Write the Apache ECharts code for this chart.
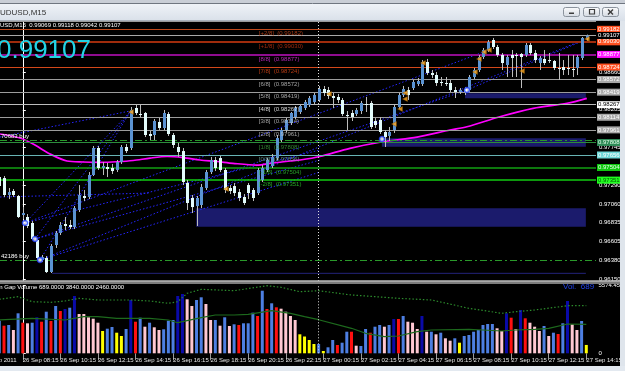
<!DOCTYPE html>
<html>
<head>
<meta charset="utf-8">
<script src="https://cdn.jsdelivr.net/npm/echarts@6.0.0/dist/echarts.min.js"></script>
<style>
html,body{margin:0;padding:0;background:#000;overflow:hidden;}
#chart{width:625px;height:371px;}
</style>
</head>
<body>
<div id="chart"></div>
<script>
// ================= DATA =================
const firstBar = -5;
const opens = [0.97388,0.97376,0.97170,0.97219,0.97158,0.96927,0.96903,0.96830,0.96624,0.96381,
0.96405,0.96235,0.96563,0.96709,0.96818,0.96806,0.96781,0.96988,0.97158,0.97146,
0.97413,0.97741,0.97498,0.97510,0.97498,0.97474,0.97571,0.97753,0.97741,0.98227,
0.98154,0.98166,0.97911,0.97899,0.98057,0.97984,0.98154,0.97899,0.97753,0.97704,
0.97316,0.97134,0.97036,0.97049,0.97255,0.97449,0.97595,0.97619,0.97474,0.97255,
0.97279,0.97206,0.97146,0.97291,0.97231,0.97194,0.97352,0.97474,0.97522,0.97619,
0.97838,0.97959,0.98044,0.98117,0.98178,0.98227,0.98263,0.98299,0.98324,0.98457,
0.98445,0.98372,0.98360,0.98324,0.98142,0.98166,0.98154,0.98190,0.98275,0.98287,
0.98069,0.98081,0.97935,0.97887,0.97959,0.98239,0.98384,0.98445,0.98469,0.98518,
0.98518,0.98785,0.98652,0.98627,0.98542,0.98530,0.98530,0.98445,0.98421,0.98457,
0.98445,0.98603,0.98688,0.98846,0.98931,0.99052,0.98967,0.98870,0.98749,0.98870,
0.98870,0.98882,0.98870,0.98992,0.98894,0.98773,0.98822,0.98809,0.98797,0.98712,
0.98724,0.98712,0.98700,0.98712,0.98834,0.99069];
const closes = [0.97279,0.97170,0.97206,0.97170,0.96903,0.96951,0.96794,0.96636,0.96405,0.96417,
0.96235,0.96551,0.96709,0.96806,0.96794,0.96781,0.97012,0.97170,0.97134,0.97413,
0.97741,0.97498,0.97522,0.97486,0.97461,0.97571,0.97753,0.97704,0.98202,0.98166,
0.98142,0.97899,0.97887,0.98069,0.97984,0.98166,0.97911,0.97777,0.97692,0.97328,
0.97073,0.97024,0.97134,0.97267,0.97449,0.97595,0.97498,0.97474,0.97231,0.97219,
0.97194,0.97134,0.97073,0.97194,0.97134,0.97474,0.97498,0.97595,0.97632,0.97862,
0.97959,0.98081,0.98166,0.98227,0.98251,0.98299,0.98348,0.98384,0.98457,0.98409,
0.98372,0.98348,0.98324,0.98154,0.98129,0.98117,0.98202,0.98287,0.98263,0.97996,
0.98020,0.97935,0.97874,0.97935,0.98239,0.98384,0.98457,0.98384,0.98542,0.98554,
0.98785,0.98652,0.98627,0.98530,0.98530,0.98524,0.98445,0.98421,0.98445,0.98421,
0.98603,0.98688,0.98846,0.98931,0.99028,0.98967,0.98870,0.98773,0.98846,0.98834,
0.98858,0.98846,0.98992,0.98894,0.98809,0.98834,0.98773,0.98797,0.98712,0.98706,
0.98688,0.98700,0.98694,0.98846,0.99077,0.99107];
const highs = [0.97413,0.97401,0.97255,0.97243,0.97170,0.97024,0.96939,0.96854,0.96648,0.96442,
0.96429,0.96575,0.96733,0.96842,0.96903,0.96867,0.97036,0.97291,0.97231,0.97449,
0.97765,0.97765,0.97571,0.97559,0.97547,0.97595,0.97777,0.97789,0.98239,0.98275,
0.98263,0.98178,0.97947,0.98093,0.98105,0.98202,0.98178,0.97923,0.97802,0.97741,
0.97352,0.97170,0.97158,0.97304,0.97474,0.97632,0.97632,0.97644,0.97498,0.97291,
0.97316,0.97243,0.97182,0.97316,0.97255,0.97498,0.97534,0.97619,0.97668,0.97899,
0.97984,0.98105,0.98178,0.98251,0.98275,0.98324,0.98372,0.98409,0.98494,0.98494,
0.98482,0.98409,0.98397,0.98348,0.98190,0.98202,0.98227,0.98312,0.98360,0.98312,
0.98105,0.98117,0.97959,0.97996,0.98263,0.98409,0.98494,0.98482,0.98567,0.98591,
0.98809,0.98822,0.98688,0.98664,0.98603,0.98603,0.98567,0.98482,0.98469,0.98482,
0.98627,0.98712,0.98870,0.98955,0.99052,0.99077,0.98992,0.98894,0.98870,0.98931,
0.98894,0.98894,0.99016,0.99016,0.98931,0.98858,0.98931,0.98894,0.98809,0.98894,
0.98809,0.98870,0.98870,0.98870,0.99089,0.99118];
const lows = [0.97231,0.97146,0.97121,0.97146,0.96891,0.96879,0.96769,0.96624,0.96381,0.96356,
0.96223,0.96223,0.96527,0.96684,0.96745,0.96757,0.96757,0.96964,0.97097,0.97121,
0.97401,0.97474,0.97413,0.97388,0.97425,0.97449,0.97547,0.97680,0.97717,0.98142,
0.98117,0.97874,0.97838,0.97838,0.97959,0.97959,0.97887,0.97741,0.97632,0.97291,
0.96988,0.96951,0.96794,0.97012,0.97231,0.97425,0.97461,0.97449,0.97194,0.97182,
0.97158,0.97097,0.97049,0.97121,0.97097,0.97170,0.97328,0.97449,0.97498,0.97595,
0.97814,0.97935,0.98020,0.98093,0.98154,0.98202,0.98239,0.98275,0.98299,0.98372,
0.98336,0.98227,0.98287,0.98129,0.97959,0.98069,0.98129,0.98154,0.98178,0.97972,
0.97984,0.97911,0.97753,0.97826,0.97923,0.98214,0.98360,0.98324,0.98445,0.98494,
0.98494,0.98627,0.98591,0.98494,0.98494,0.98494,0.98421,0.98348,0.98397,0.98384,
0.98421,0.98579,0.98664,0.98822,0.98907,0.98943,0.98846,0.98688,0.98603,0.98603,
0.98603,0.98469,0.98846,0.98870,0.98773,0.98688,0.98749,0.98773,0.98688,0.98567,
0.98627,0.98627,0.98603,0.98627,0.98809,0.99042];

const volumes = [2688,2276,2334,1921,3298,2523,2474,2523,2969,2606,
3430,2663,3900,3488,3653,3760,4725,3241,3241,2969,
2853,2523,1839,2029,2169,1699,1427,2004,4395,2606,
2936,2193,2523,2144,1921,1979,2688,2746,4725,4890,
4453,3900,4395,4618,4065,2746,2746,2276,2969,2251,
2391,2334,2474,2474,3348,3076,5162,3653,4123,3793,
3678,3430,3076,2746,1567,1385,1097,767,767,190,
495,1097,684,874,1781,1781,627,602,2004,1699,
2193,2334,2193,2334,2828,2828,3076,2606,2523,2004,
3076,1781,1781,1567,1699,1237,1039,1237,874,1427,
1509,1781,1921,2334,2416,2416,2062,1839,3298,2936,
2004,3570,2886,2523,2193,1839,2251,1427,1699,1591,
2474,4313,2391,1921,2663,689];
// B=blue, R=red, P=pink, Y=yellow, N=navy
const volumeClass = "BRBPBRPBNR"+"BRBRNBNPPP"+"PPYBBYYBNR"+"BPBPPBBBNN"+"PPBBPPBPBP"+
  "BRBBBRBRBR"+"PPPPYYYYBY"+"BBRBBRPBBR"+"BBPBNRBPPP"+"NPBPBPPBYB"+"BBBBBBPPNR"+"PNRPPPBPBR"+"BNPPBY";

const volHighBars = [-5,-1,2,6,9,12,16,23,27,31,33,35,38,45,52,55,59,63,70,80,87,95,102,105,109,116,120];
const volHighValues = [4453,4667,4255,4205,4313,4535,4395,4395,4313,4123,4255,4948,5277,5162,5574,5442,5079,5162,4807,4535,4395,3711,3298,3430,3570,3925,3925];
const volAvgBars = [-5,2,9,13,16,20,27,31,33,38,41,45,48,53,57,60,63,70,73,77,80,84,87,95,98,102,105,109,112,116,120];
const volAvgValues = [2746,2886,2746,3018,3018,2886,2886,2746,2523,2936,3158,3158,3216,3513,3298,3018,2770,2062,1649,1369,1427,1781,1921,1979,1921,1839,1921,1979,2062,2416,2391];

const maBars = [-4.85,-0.6,2.2,5.8,9.4,12.8,16.4,20,23.5,27.1,30.7,34.1,37.7,41.3,44.7,49.8,53.2,56.9,59,63.2,69.6,76.6,83.9,90.9,94.5,101.5,108.6,115.8,120];
const maValues = [0.97911,0.97862,0.97789,0.97668,0.97583,0.97571,0.97567,0.97574,0.97589,0.97619,0.97638,0.97625,0.97595,0.97577,0.97555,0.97534,0.97559,0.97583,0.97595,0.97638,0.97737,0.97817,0.97874,0.97959,0.97999,0.98121,0.98223,0.98284,0.98344];

const murreyNames = ['[+2/8]','[+1/8]','[8/8]','[7/8]','[6/8]','[5/8]','[4/8]','[3/8]','[2/8]','[1/8]','[0/8]','[-1/8]','[-2/8]'];
const murreyValues = [0.99182,0.99030,0.98877,0.98724,0.98572,0.98419,0.98267,0.98114,0.97961,0.97808,0.97656,0.97504,0.97351];
const plainPriceTicks = [0.98660,0.98205,0.97745,0.97290,0.97060,0.96835,0.96605,0.96380,0.96150];
const volTicks = [0, 5574.45];
const bidPrice = 0.99107;
const buyPrices = [0.97830, 0.96381];
const buyLabels = ['70683 buy', '42186 buy'];

const tickBars = [0,8,16,24,32,40,48,56,64,72,80,88,96,104,112,120];
const tickLabels = ['26 Sep 08:15','26 Sep 10:15','26 Sep 12:15','26 Sep 14:15','26 Sep 16:15','26 Sep 18:15','26 Sep 20:15','26 Sep 22:15',
  '27 Sep 00:15','27 Sep 02:15','27 Sep 04:15','27 Sep 06:15','27 Sep 08:15','27 Sep 10:15','27 Sep 12:15','27 Sep 14:15'];

const zoneStart = [36.9, 94.1, 76.4];
const zoneEnd = [119.8, 119.8, 119.8];
const zoneTop = [0.97009, 0.98405, 0.97859];
const zoneBottom = [0.96785, 0.98344, 0.97757];
const supportStart = 6.2, supportEnd = 119.8, supportPrice = 0.96219;

const trendStartBar = [-4.85,0.47,2.6,3.66,0.47,2.6,3.66,-4.85,0.47,2.6,3.66,94.51];
const trendStartPrice = [0.97874,0.96830,0.96636,0.96381,0.96830,0.96636,0.96381,0.97146,0.96830,0.96636,0.96381,0.98445];
const trendEndBar = [22.81,22.81,22.81,22.81,99.19,94.51,119.2,27.06,63.23,63.23,63.23,120.04];
const trendEndPrice = [0.98190,0.98178,0.98178,0.98178,0.98931,0.98445,0.99052,0.97194,0.97717,0.97595,0.97449,0.99064];

const arrowBars = [23.02,43.23,65.15,78.98,80.26,81.32,81.32,85.15,96.21,97.06,98.13,99.19,106.21,120.04];
const arrowPrices = [0.98178,0.97243,0.98397,0.98032,0.98214,0.98409,0.98336,0.98773,0.98664,0.98822,0.98907,0.98931,0.98676,0.99064];
const circleBars = [0.47,2.6,3.66,76.43,94.51];
const circlePrices = [0.96830,0.96636,0.96381,0.97850,0.98445];
const daySeparatorBar = 62.87;

// ================= STYLE =================
const FONT = '"Liberation Sans", Arial, sans-serif';
const XMIN = -4.851, XMAX = 121.96;
const PMIN = 0.96126, PMAX = 0.99283;
const VOL_MAX = 5574.45;
const murreyLineColor = ['#c04a1c','#a02c0c','#900c90','#d4481a','#9c9c9c','#9c9c9c','#bcbcbc','#9c9c9c','#9c9c9c','#2c8c3c','#68b4b4','#12a012','#12cc12'];
const murreyLineWidth = [1,2,2,1,1,1,1,1,1,1,1,1.5,1.5];
const murreyBoxBg = ['#ff5020','#ff5020','#ff10ff','#ff5020','#a8a8a8','#a8a8a8','#ffffff','#a8a8a8','#a8a8a8','#2e8b57','#70d8d8','#10c810','#20ff20'];
const murreyBoxText = ['#ffffff','#ffffff','#ffffff','#ffffff','#ffffff','#ffffff','#000000','#ffffff','#ffffff','#e0ffe8','#ffffff','#eaffea','#005500'];
const murreyTextColor = ['#d0481a','#c83410','#e030e0','#e04818','#c8c8c8','#c8c8c8','#ffffff','#c8c8c8','#c8c8c8','#3ca03c','#7ab0a8','#30c030','#30d030'];
const volColors = {B:'#4d7fe2', R:'#ff1010', P:'#ffc8d2', Y:'#ffff00', N:'#0a0aa8'};
const BULL = '#5b93d2', BEAR = '#e2fcfc', WICK = '#bcbcbc';

// ================= BUILD =================
const candleData = opens.map((o, k) => [firstBar + k, o, closes[k], lows[k], highs[k]]);
const volData = volumes.map((v, k) => ({value: [firstBar + k, v], itemStyle: {color: volColors[volumeClass[k]]}}));

function hLine(v, lineStyle, label) {
  return [{coord: [XMIN, v], lineStyle: lineStyle, label: label}, {coord: [XMAX, v]}];
}
const boxLabel = (text, bg, color) => ({show: true, position: 'end', distance: 1, formatter: text,
  backgroundColor: bg, color: color, fontSize: 6, fontFamily: FONT, padding: [1, 1, 0, 1], lineHeight: 6});

const levelLines = murreyValues.map((v, k) => hLine(v,
  {color: murreyLineColor[k], width: murreyLineWidth[k], type: 'solid'},
  boxLabel(v.toFixed(5), murreyBoxBg[k], murreyBoxText[k])));
levelLines.push(hLine(bidPrice, {color: '#a8a8a8', width: 1, type: 'solid'}, boxLabel(bidPrice.toFixed(5), '#000000', '#ffffff')));
buyPrices.forEach((p, k) => levelLines.push(hLine(p, {color: '#2a9a2a', width: 1, type: [7, 3, 2, 3]},
  {show: true, position: 'insideStartTop', distance: 1, formatter: buyLabels[k], color: '#ffffff', fontSize: 6, fontFamily: FONT})));
levelLines.push([{coord: [daySeparatorBar, PMIN], lineStyle: {color: '#e0e0e0', width: 1, type: [1, 2]}, label: {show: false}},
  {coord: [daySeparatorBar, PMAX]}]);

const series = [];

series.push({
  type: 'line', xAxisIndex: 0, yAxisIndex: 0, data: [], z: 1, silent: true,
  markArea: {silent: true, itemStyle: {color: '#1b1b6c'},
    data: zoneStart.map((s, k) => [{coord: [s, zoneTop[k]]}, {coord: [zoneEnd[k], zoneBottom[k]]}])}
});
series.push({
  type: 'line', xAxisIndex: 0, yAxisIndex: 0, z: 1, symbol: 'none', silent: true,
  data: [[supportStart, supportPrice], [supportEnd, supportPrice]],
  lineStyle: {color: '#23237a', width: 1}
});
series.push({
  type: 'line', xAxisIndex: 0, yAxisIndex: 0, data: [], z: 2, silent: true,
  markLine: {symbol: 'none', silent: true, animation: false, data: levelLines}
});

trendStartBar.forEach((s, k) => {
  series.push({
    type: 'line', xAxisIndex: 0, yAxisIndex: 0, z: 3, symbol: 'none', silent: true,
    data: [[s, trendStartPrice[k]], [trendEndBar[k], trendEndPrice[k]]],
    lineStyle: {color: '#2626ff', width: 1, type: [1.5, 2]}
  });
});

series.push({
  type: 'line', xAxisIndex: 0, yAxisIndex: 0, z: 4, symbol: 'none', silent: true, smooth: 0.3,
  data: maBars.map((b, k) => [b, maValues[k]]),
  lineStyle: {color: '#ff00ff', width: 1.7}
});

series.push({
  type: 'custom', xAxisIndex: 0, yAxisIndex: 0, z: 5, clip: true, silent: true,
  data: candleData,
  encode: {x: 0, y: [1, 2, 3, 4]},
  renderItem: function (params, api) {
    const x = api.value(0), o = api.value(1), c = api.value(2), l = api.value(3), h = api.value(4);
    const po = api.coord([x, o]), pc = api.coord([x, c]), pl = api.coord([x, l]), ph = api.coord([x, h]);
    const cx = Math.round(po[0]);
    const top = Math.min(po[1], pc[1]);
    const bh = Math.max(Math.abs(po[1] - pc[1]), 1);
    return {
      type: 'group',
      children: [
        {type: 'line', shape: {x1: cx + 0.5, y1: ph[1], x2: cx + 0.5, y2: pl[1]}, style: {stroke: WICK, lineWidth: 1}},
        {type: 'rect', shape: {x: cx - 1, y: top, width: 3, height: bh}, style: {fill: c >= o ? BULL : BEAR}}
      ]
    };
  }
});

series.push({
  type: 'scatter', xAxisIndex: 0, yAxisIndex: 0, z: 6, silent: true,
  symbol: 'triangle', symbolRotate: 90, symbolSize: [5, 5],
  itemStyle: {color: '#ffa81e', borderColor: '#8a5200', borderWidth: 0.5},
  data: arrowBars.map((b, k) => [b, arrowPrices[k]])
});
series.push({
  type: 'scatter', xAxisIndex: 0, yAxisIndex: 0, z: 6, silent: true,
  symbol: 'circle', symbolSize: 5,
  itemStyle: {color: '#ffffff', borderColor: '#1c3cff', borderWidth: 1.5},
  data: circleBars.map((b, k) => [b, circlePrices[k]])
});

series.push({
  type: 'scatter', xAxisIndex: 0, yAxisIndex: 0, z: 8, silent: true,
  symbolSize: 1, itemStyle: {color: 'rgba(0,0,0,0)'},
  data: murreyValues.map((v, k) => ({value: [50.1, v], label: {color: murreyTextColor[k]}})),
  label: {show: true, position: 'right', distance: 0, offset: [0, 4.5], fontSize: 6, fontFamily: FONT,
    formatter: p => murreyNames[p.dataIndex] + '  (' + murreyValues[p.dataIndex].toFixed(5) + ')'}
});

series.push({
  type: 'bar', xAxisIndex: 1, yAxisIndex: 1, z: 3, barWidth: 3, silent: true,
  data: volData,
  markLine: {symbol: 'none', silent: true, label: {show: false},
    data: [[{coord: [daySeparatorBar, 0], lineStyle: {color: '#e0e0e0', width: 1, type: [1, 2]}}, {coord: [daySeparatorBar, VOL_MAX]}]]}
});
series.push({
  type: 'line', xAxisIndex: 1, yAxisIndex: 1, z: 4, symbol: 'none', silent: true,
  data: volHighBars.map((b, k) => [b, volHighValues[k]]),
  lineStyle: {color: '#2c8c2c', width: 1.2, type: [1.5, 2]}
});
series.push({
  type: 'line', xAxisIndex: 1, yAxisIndex: 1, z: 4, symbol: 'none', silent: true,
  data: volAvgBars.map((b, k) => [b, volAvgValues[k]]),
  lineStyle: {color: '#1d6a1d', width: 1.2}
});

// ================= GRAPHIC (window chrome & texts) =================
const grad = new echarts.graphic.LinearGradient(0, 0, 0, 1, [{offset: 0, color: '#f4f7fb'}, {offset: 1, color: '#d9e0e9'}]);
const btnGrad = () => new echarts.graphic.LinearGradient(0, 0, 0, 1, [{offset: 0, color: '#fdfdfe'}, {offset: 1, color: '#d3d9e1'}]);
function txt(text, x, y, size, color) {
  return {type: 'text', z: 120, silent: true,
    style: {text: text, x: x, y: y, font: size + 'px ' + FONT, fill: color,
      verticalAlign: 'middle', textVerticalAlign: 'middle', align: 'left', textAlign: 'left'}};
}
const G = [
  {type: 'rect', z: 100, silent: true, shape: {x: 0, y: 0, width: 625, height: 21}, style: {fill: grad}},
  {type: 'rect', z: 101, silent: true, shape: {x: 0, y: 0, width: 625, height: 3}, style: {fill: '#c9ced6'}},
  {type: 'line', z: 101, silent: true, shape: {x1: 0, y1: 3.5, x2: 625, y2: 3.5}, style: {stroke: '#6f7680', lineWidth: 1}},
  {type: 'line', z: 101, silent: true, shape: {x1: 0, y1: 20.5, x2: 620, y2: 20.5}, style: {stroke: '#a9b1bb', lineWidth: 1}},
  {type: 'rect', z: 100, silent: true, shape: {x: 620, y: 21, width: 5, height: 350}, style: {fill: '#dfe5ec'}},
  {type: 'rect', z: 100, silent: true, shape: {x: 0, y: 366, width: 625, height: 5}, style: {fill: '#e3e9f0'}},
  {type: 'rect', z: 60, silent: true, shape: {x: 0, y: 280.5, width: 620, height: 3.5}, style: {fill: '#7c7c7c'}},
  {type: 'line', z: 61, silent: true, shape: {x1: 0, y1: 281, x2: 620, y2: 281}, style: {stroke: '#d4d4d4', lineWidth: 1}},
  {type: 'line', z: 61, silent: true, shape: {x1: 0, y1: 21.5, x2: 596, y2: 21.5}, style: {stroke: '#9a9a9a', lineWidth: 1}},
  txt('UDUSD,M15', 0, 12.5, 8, '#333333'),
  txt('USD,M15  0.99069 0.99118 0.99042 0.99107', 0, 25.7, 6, '#ffffff'),
  txt('0.99107', -3, 50.5, 26, '#22d4e6'),
  txt('in Gap Volume 689.0000 3840.0000 2460.0000', -2, 287.5, 6, '#ffffff'),
  txt('Vol.  689', 563, 287, 8, '#2040e8'),
  txt('26 Sep 2011', -17, 360.5, 6, '#e8e8e8')
];
[563, 583, 602].forEach((bx, k) => {
  G.push({type: 'rect', z: 110, silent: true, shape: {x: bx + 0.5, y: 7.5, width: 16, height: 9, r: 2},
    style: {fill: btnGrad(), stroke: '#8a929c', lineWidth: 1}});
  if (k === 0) G.push({type: 'rect', z: 111, silent: true, shape: {x: bx + 6, y: 12.5, width: 5, height: 1.5}, style: {fill: '#3c3c3c'}});
  if (k === 1) G.push({type: 'rect', z: 111, silent: true, shape: {x: bx + 6.5, y: 9.5, width: 5, height: 4.5}, style: {fill: 'none', stroke: '#3c3c3c', lineWidth: 1.2}});
  if (k === 2) {
    G.push({type: 'line', z: 111, silent: true, shape: {x1: bx + 6, y1: 9.5, x2: bx + 11, y2: 14.5}, style: {stroke: '#3c3c3c', lineWidth: 1.4}});
    G.push({type: 'line', z: 111, silent: true, shape: {x1: bx + 11, y1: 9.5, x2: bx + 6, y2: 14.5}, style: {stroke: '#3c3c3c', lineWidth: 1.4}});
  }
});

const option = {
  backgroundColor: '#000000',
  animation: false,
  textStyle: {fontFamily: FONT},
  grid: [
    {left: 0, top: 21, width: 596, height: 260},
    {left: 0, top: 285.7, width: 596, height: 67.6}
  ],
  xAxis: [
    {type: 'value', gridIndex: 0, min: XMIN, max: XMAX, show: false},
    {type: 'value', gridIndex: 1, min: XMIN, max: XMAX, offset: 3,
      axisLine: {show: false}, splitLine: {show: false},
      axisTick: {show: true, customValues: tickBars, length: 7, lineStyle: {color: '#9a9a9a'}},
      axisLabel: {show: true, customValues: tickBars, align: 'left', color: '#e8e8e8', fontSize: 6, margin: 1, fontFamily: FONT,
        formatter: v => tickLabels[tickBars.indexOf(Math.round(v))] || ''}}
  ],
  yAxis: [
    {type: 'value', gridIndex: 0, position: 'right', min: PMIN, max: PMAX, splitLine: {show: false},
      axisLine: {show: true, lineStyle: {color: '#ffffff', width: 1}},
      axisTick: {show: true, customValues: plainPriceTicks, length: 3, lineStyle: {color: '#ffffff'}},
      axisLabel: {show: true, customValues: plainPriceTicks, formatter: v => v.toFixed(5), color: '#ffffff', fontSize: 6, margin: 3, fontFamily: FONT}},
    {type: 'value', gridIndex: 1, position: 'right', min: 0, max: VOL_MAX, splitLine: {show: false},
      axisLine: {show: true, lineStyle: {color: '#ffffff', width: 1}},
      axisTick: {show: true, customValues: volTicks, length: 3, lineStyle: {color: '#ffffff'}},
      axisLabel: {show: true, customValues: volTicks, formatter: v => (v === 0 ? '0' : v.toFixed(2)), color: '#ffffff', fontSize: 6, margin: 3, fontFamily: FONT}}
  ],
  series: series,
  graphic: {elements: G}
};

const chart = echarts.init(document.getElementById('chart'), null, {renderer: 'canvas', width: 625, height: 371});
chart.setOption(option);
</script>
</body>
</html>
